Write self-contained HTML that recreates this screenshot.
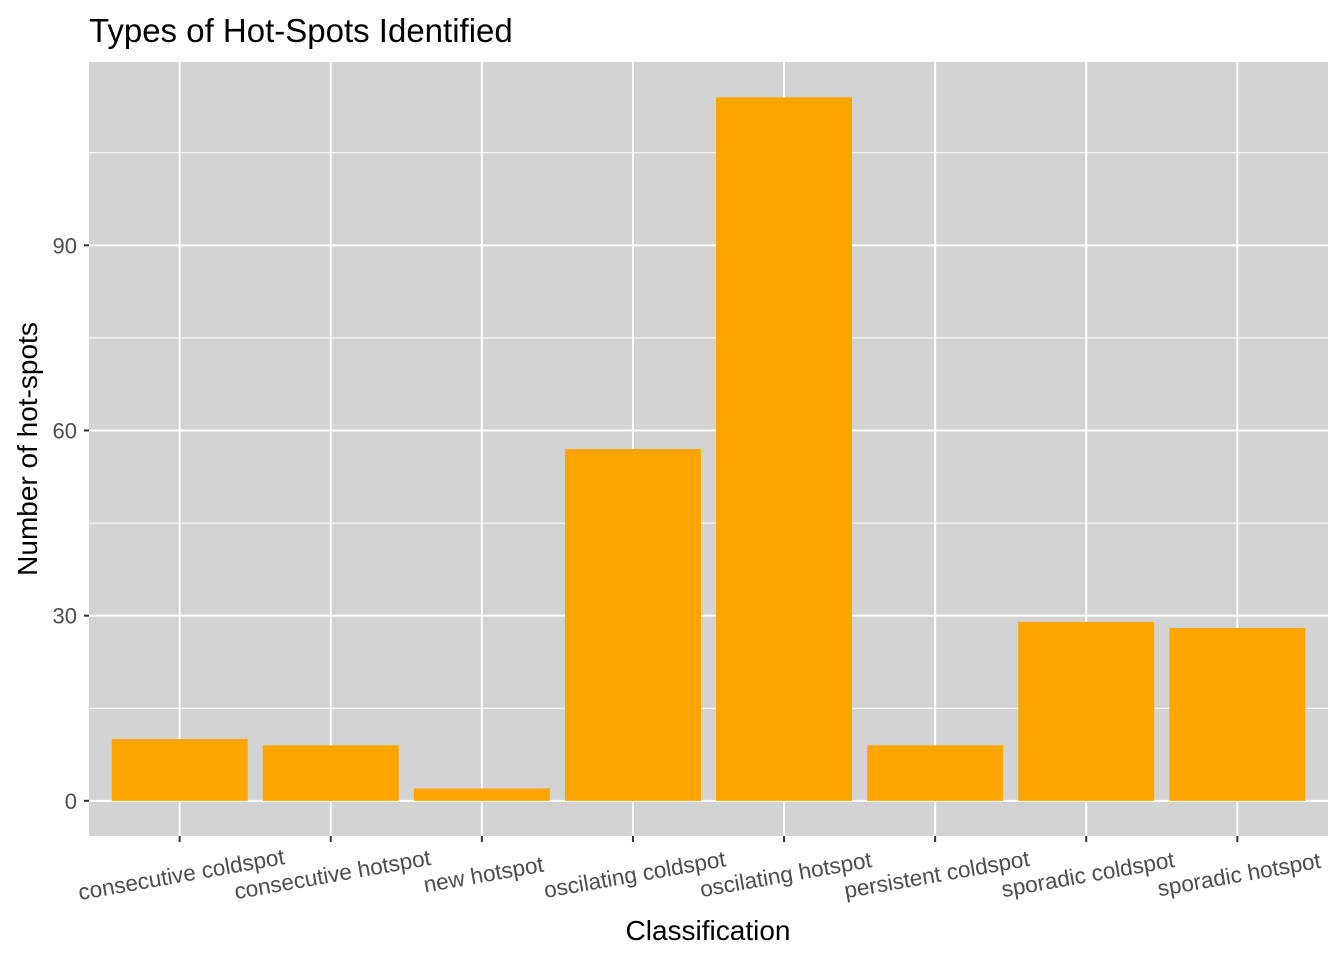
<!DOCTYPE html>
<html><head><meta charset="utf-8"><style>
html,body{margin:0;padding:0;background:#fff}
svg{display:block;font-family:"Liberation Sans",Arial,sans-serif}
</style></head><body>
<svg id="chart" width="1344" height="960">
<rect width="1344" height="960" fill="#fff"/>
<text x="89" y="42" font-size="33" fill="#000">Types of Hot-Spots Identified</text>
<rect x="89" y="62" width="1239" height="774" fill="#d3d3d3"/>
<g id="grid"></g><g id="bars"></g><g id="axes"></g>
<text x="708" y="940" font-size="28" text-anchor="middle" fill="#000">Classification</text>
<text transform="translate(37,449) rotate(-90)" font-size="28" text-anchor="middle" fill="#000">Number of hot-spots</text>
</svg>
<script>
const categories=["consecutive coldspot","consecutive hotspot","new hotspot","oscilating coldspot","oscilating hotspot","persistent coldspot","sporadic coldspot","sporadic hotspot"];
const values=[10,9,2,57,114,9,29,28];
const yTicks=[0,30,60,90];
const yMinor=[15,45,75,105];
const NS="http://www.w3.org/2000/svg";
const px0=89,px1=1328,py0=62,py1=836;
const yMin=-5.7,yMax=119.7;
function y(v){return py1-(v-yMin)/(yMax-yMin)*(py1-py0);}
const step=(px1-px0)/(categories.length+0.2);
function x(i){return px0+step*(0.6+i);}
function mk(tag,attrs,parent){const e=document.createElementNS(NS,tag);for(const k in attrs)e.setAttribute(k,attrs[k]);parent.appendChild(e);return e;}
const grid=document.getElementById('grid'),bars=document.getElementById('bars'),axes=document.getElementById('axes');
yMinor.forEach(v=>{const l=mk('line',{x1:px0,x2:px1,y1:y(v),y2:y(v),stroke:'#fff','stroke-width':1},grid);

});
yTicks.forEach(v=>{const l=mk('line',{x1:px0,x2:px1,y1:y(v),y2:y(v),stroke:'#fff','stroke-width':2},grid);


const t=mk('line',{x1:84,x2:89,y1:y(v),y2:y(v),stroke:'#333','stroke-width':2},axes);


const tx=mk('text',{x:77,y:y(v)+8,'font-size':22,'text-anchor':'end',fill:'#4d4d4d'},axes);tx.textContent=v;

});
categories.forEach((c,i)=>{const cx=x(i);
const g=mk('line',{x1:cx,x2:cx,y1:py0,y2:py1,stroke:'#fff','stroke-width':2},grid);


const w=step*0.9;
const b=mk('rect',{x:cx-w/2,y:y(values[i]),width:w,height:y(0)-y(values[i]),fill:'#ffa500'},bars);


const t=mk('line',{x1:cx,x2:cx,y1:py1,y2:py1+6,stroke:'#333','stroke-width':2},axes);


const tx=mk('text',{transform:`translate(${cx+3},${882}) rotate(-10)`,'font-size':22.5,'text-anchor':'middle',fill:'#4d4d4d'},axes);tx.textContent=c;

});
</script>
</body></html>
